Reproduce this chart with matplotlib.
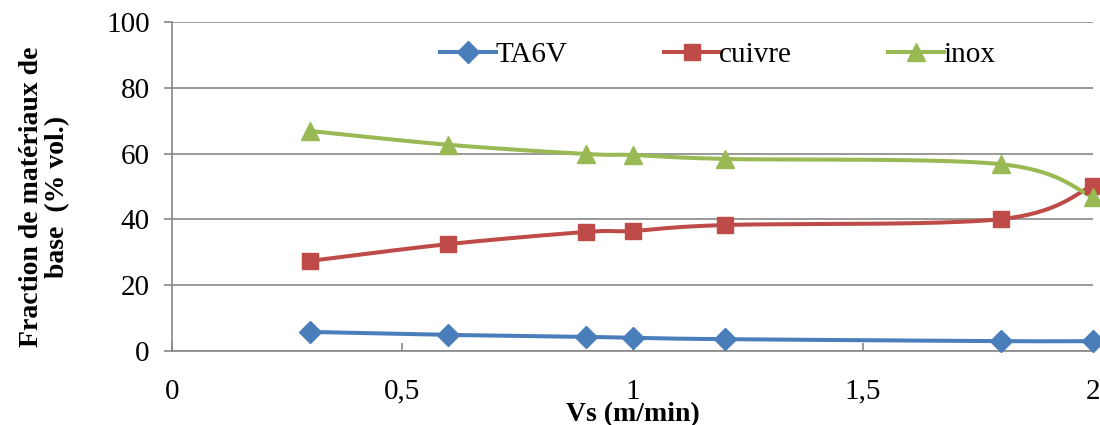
import numpy as np
import matplotlib
matplotlib.use("Agg")
import matplotlib.pyplot as plt

vs = [0.3, 0.6, 0.9, 1.0, 1.2, 1.8, 2.0]
ta6v = [5.8, 4.9, 4.3, 4.0, 3.6, 3.0, 3.0]
cuivre = [27.4, 32.5, 36.2, 36.5, 38.3, 40.1, 50.3]
inox = [66.9, 62.7, 59.9, 59.6, 58.4, 56.8, 46.8]
series_names = ["TA6V", "cuivre", "inox"]
xticks = [0, 0.5, 1, 1.5, 2]
xticklabels = ["0", "0,5", "1", "1,5", "2"]
yticks = [0, 20, 40, 60, 80, 100]

plt.rcParams['font.family'] = ['Liberation Serif', 'DejaVu Serif']


def smooth(x, y, n=40):
    x = np.asarray(x, float); y = np.asarray(y, float)
    px = np.concatenate([[x[0]], x, [x[-1]]])
    py = np.concatenate([[y[0]], y, [y[-1]]])
    xs, ys = [], []
    t = np.linspace(0, 1, n)
    for i in range(1, len(px) - 2):
        p0 = np.array([px[i], py[i]])
        p3 = np.array([px[i + 1], py[i + 1]])
        c1 = p0 + (np.array([px[i + 1], py[i + 1]]) - np.array([px[i - 1], py[i - 1]])) / 6
        c2 = p3 - (np.array([px[i + 2], py[i + 2]]) - np.array([px[i], py[i]])) / 6
        b = ((1 - t) ** 3)[:, None] * p0 + (3 * (1 - t) ** 2 * t)[:, None] * c1 \
            + (3 * (1 - t) * t ** 2)[:, None] * c2 + (t ** 3)[:, None] * p3
        xs.extend(b[:, 0]); ys.extend(b[:, 1])
    return xs, ys


fig = plt.figure(figsize=(11, 4.25), dpi=100)
ax = fig.add_axes([0.1564, 0.1741, 0.8372, 0.7739])

styles = [("#4A7EBB", "D", 11), ("#BE4B48", "s", 11), ("#98B954", "^", 13)]
for name, ys_, (c, m, ms) in zip(series_names, [ta6v, cuivre, inox], styles):
    sx, sy = smooth(vs, ys_)
    ax.plot(sx, sy, color=c, lw=2.9, clip_on=False, zorder=3)
    ax.plot(vs, ys_, ls='none', marker=m, ms=ms, color=c, clip_on=False, zorder=4)
    ax.plot([], [], color=c, lw=2.9, marker=m, ms=ms, label=name)

ax.set_xlim(0, 2)
ax.set_ylim(0, 100)
ax.set_xticks(xticks)
ax.set_xticklabels(xticklabels)
ax.set_yticks(yticks)
ax.grid(axis='y', color='#888888', lw=1.2)
ax.set_axisbelow(True)
for s in ['top', 'right']:
    ax.spines[s].set_visible(False)
for s in ['left', 'bottom']:
    ax.spines[s].set_color('#888888')
    ax.spines[s].set_linewidth(1.2)
ax.tick_params(axis='x', direction='in', length=6, color='#888888', width=1.2,
               pad=20, labelsize=21)
ax.tick_params(axis='y', direction='out', length=6, color='#888888', width=1.2,
               pad=10, labelsize=21)

ax.set_xlabel("Vs (m/min)", fontsize=20, fontweight='bold')
ax.xaxis.set_label_coords(0.5, -0.155)
ax.set_ylabel("Fraction de matériaux de\nbase  (% vol.)", fontsize=20,
              fontweight='bold', linespacing=1.05)
ax.yaxis.set_label_coords(-0.111, 0.468)

ax.legend(loc='center', bbox_to_anchor=(0.593, 0.9), ncol=3, frameon=False,
          fontsize=21, handlelength=1.9, handletextpad=0.0, columnspacing=3.3)

fig.savefig("out.png", dpi=100)
